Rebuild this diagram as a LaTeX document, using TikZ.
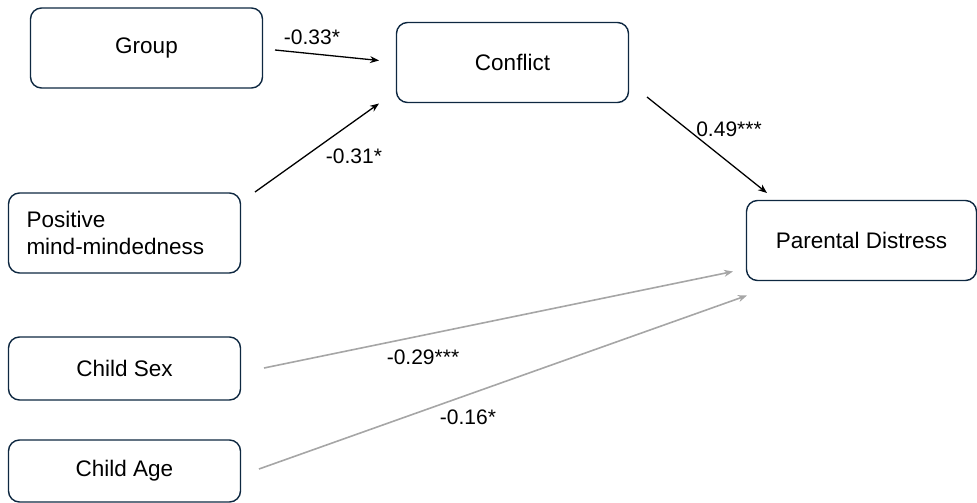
\documentclass[tikz,border=0pt]{standalone}
\usepackage{fontspec}
\setmainfont{Liberation Sans}
\usetikzlibrary{arrows.meta}
\definecolor{boxline}{HTML}{0E2841}
\definecolor{grayline}{HTML}{A6A6A6}
\begin{document}
\begin{tikzpicture}[x=1pt,y=-1pt,
  vbox/.style={draw=boxline,line width=1.4pt,rounded corners=11pt,fill=white,inner sep=0pt,font=\fontsize{22.5}{27}\selectfont},
  blk/.style={line width=1.3pt,-{Stealth[length=9pt,width=7pt]}},
  gry/.style={draw=grayline,line width=1.6pt,-{Stealth[length=9pt,width=7pt]}},
  lbl/.style={font=\fontsize{21}{25}\selectfont,inner sep=0pt}]
\useasboundingbox (0,0) rectangle (977,503);
\node[vbox,minimum width=232pt,minimum height=80pt] (grp) at (146.5,48) {Group};
\node[vbox,minimum width=232pt,minimum height=80pt] (con) at (512.5,62.5) {Conflict};
\node[vbox,minimum width=232pt,minimum height=80pt,align=left,text width=196pt,inner xsep=18pt] (pmm) at (124.5,233) {Positive\\mind-mindedness};
\node[vbox,minimum width=230pt,minimum height=80pt] (pd) at (861.5,240.5) {Parental Distress};
\node[vbox,minimum width=232pt,minimum height=63pt] (sex) at (124.5,368.5) {Child Sex};
\node[vbox,minimum width=232pt,minimum height=62pt] (age) at (124.5,471) {Child Age};
\coordinate (g1) at (275,50);   \coordinate (g2) at (379,60.5);
\coordinate (p1) at (255,192);  \coordinate (p2) at (379,103.5);
\coordinate (c1) at (647,97);   \coordinate (c2) at (767,193);
\coordinate (s1) at (264,368);  \coordinate (s2) at (733,271.5);
\coordinate (a1) at (259,469);  \coordinate (a2) at (747,295.5);
\draw[blk] (g1) -- (g2);
\draw[blk] (p1) -- (p2);
\draw[blk] (c1) -- (c2);
\draw[gry] (s1) -- (s2);
\draw[gry] (a1) -- (a2);
\node[lbl] (lg) at (312,37) {-0.33*};
\node[lbl] (lp) at (354,156) {-0.31*};
\node[lbl] (lc) at (729,129) {0.49***};
\node[lbl] (ls) at (423,357) {-0.29***};
\node[lbl] (la) at (468,417) {-0.16*};
\end{tikzpicture}
\end{document}
